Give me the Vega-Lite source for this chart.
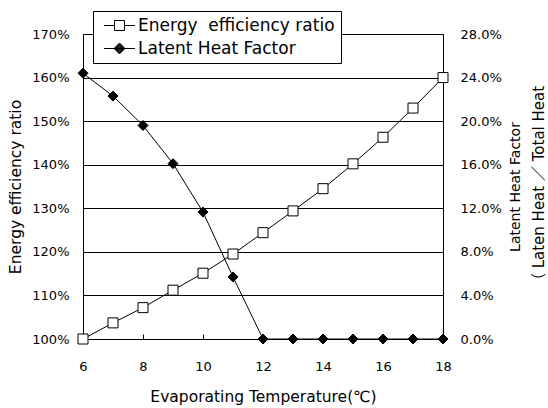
{
  "$schema": "https://vega.github.io/schema/vega-lite/v6.json",
  "width": 360,
  "height": 305,
  "autosize": {"type": "none"},
  "padding": {"left": 83, "top": 34, "right": 105, "bottom": 69},
  "background": "white",
  "config": {
    "font": "DejaVu Sans, Noto Sans CJK JP",
    "view": {"stroke": "black", "strokeWidth": 1},
    "axis": {"labelColor": "black", "titleColor": "black", "titleFontWeight": "normal", "labelFont": "DejaVu Sans", "titleFont": "DejaVu Sans, Noto Sans CJK JP"},
    "legend": {
      "orient": "none", "legendX": 10, "legendY": -23,
      "title": null,
      "padding": 6, "strokeColor": "black", "fillColor": "white",
      "labelFontSize": 17, "labelFont": "DejaVu Sans", "labelColor": "black", "labelLimit": 400,
      "labelOffset": 10, "symbolSize": 100, "symbolOffset": 12, "symbolStrokeWidth": 1,
      "rowPadding": 5
    }
  },
  "data": {
    "values": [
      {"t": 6, "eer": 1.000, "lhf": 0.244},
      {"t": 7, "eer": 1.037, "lhf": 0.223},
      {"t": 8, "eer": 1.072, "lhf": 0.196},
      {"t": 9, "eer": 1.112, "lhf": 0.161},
      {"t": 10, "eer": 1.151, "lhf": 0.1165},
      {"t": 11, "eer": 1.195, "lhf": 0.057},
      {"t": 12, "eer": 1.244, "lhf": 0},
      {"t": 13, "eer": 1.294, "lhf": 0},
      {"t": 14, "eer": 1.345, "lhf": 0},
      {"t": 15, "eer": 1.402, "lhf": 0},
      {"t": 16, "eer": 1.463, "lhf": 0},
      {"t": 17, "eer": 1.530, "lhf": 0},
      {"t": 18, "eer": 1.600, "lhf": 0}
    ]
  },
  "encoding": {
    "x": {
      "field": "t", "type": "quantitative",
      "scale": {"domain": [6, 18], "nice": false, "zero": false},
      "axis": {
        "values": [6, 8, 10, 12, 14, 16, 18],
        "grid": false, "domain": false, "ticks": true, "tickSize": -5, "tickColor": "black",
        "labelPadding": 26, "labelFontSize": 13, "labelFlush": false,
        "title": "Evaporating Temperature(℃)", "titleFontSize": 15.5, "titlePadding": 16
      }
    }
  },
  "layer": [
    {
      "encoding": {
        "y": {
          "field": "eer", "type": "quantitative",
          "scale": {"domain": [1.0, 1.7], "nice": false, "zero": false},
          "axis": {
            "orient": "left",
            "values": [1.0, 1.1, 1.2, 1.3, 1.4, 1.5, 1.6, 1.7],
            "format": ".0%",
            "grid": true, "gridColor": "black", "gridOpacity": 1, "gridWidth": 1,
            "ticks": false, "domain": false,
            "labelPadding": 14, "labelFontSize": 13,
            "title": "Energy efficiency ratio", "titleFontSize": 15.5, "titlePadding": 8
          }
        }
      },
      "layer": [
        {"mark": {"type": "line", "color": "black", "strokeWidth": 1}, "encoding": {}},
        {
          "mark": {"type": "point", "filled": true, "fill": "white", "stroke": "black", "strokeWidth": 1, "size": 1, "opacity": 1},
          "encoding": {
            "shape": {
              "datum": "Energy  efficiency ratio",
              "type": "nominal",
              "scale": {
                "domain": ["Energy  efficiency ratio", "Latent Heat Factor"],
                "range": [
                  "M-3.1,0H-1M1,0H3.1M-1,-1H1V1H-1Z",
                  "M-3.1,0H3.1M0,-1.1L1.1,0L0,1.1L-1.1,0ZM0,-0.95L0.95,0L0,0.95L-0.95,0ZM0,-0.8L0.8,0L0,0.8L-0.8,0ZM0,-0.65L0.65,0L0,0.65L-0.65,0ZM0,-0.5L0.5,0L0,0.5L-0.5,0ZM0,-0.35L0.35,0L0,0.35L-0.35,0ZM0,-0.2L0.2,0L0,0.2L-0.2,0ZM0,-0.05L0.05,0L0,0.05L-0.05,0Z"
                ]
              },
              "legend": {
                "symbolSize": 100,
                "labelExpr": "replace(datum.label, '  ', '\u00a0 ')"
              }
            }
          }
        },
        {
          "mark": {"type": "point", "shape": "square", "filled": true, "fill": "white", "stroke": "black", "strokeWidth": 1, "size": 100, "opacity": 1},
          "encoding": {}
        }
      ]
    },
    {
      "layer": [
        {
          "mark": {"type": "line", "color": "black", "strokeWidth": 1},
          "encoding": {
            "y": {
              "field": "lhf", "type": "quantitative",
              "scale": {"domain": [0, 0.28], "nice": false, "zero": false},
              "axis": {
                "orient": "right",
                "labels": false, "ticks": false, "domain": false, "grid": false,
                "title": "（ Laten Heat ／ Total Heat",
                "titleFontSize": 15, "titleAngle": -90, "titleBaseline": "top", "titlePadding": 88
              }
            }
          }
        },
        {
          "mark": {"type": "point", "shape": "diamond", "filled": true, "fill": "black", "stroke": "black", "strokeWidth": 1, "size": 100, "opacity": 1},
          "encoding": {
            "y": {
              "field": "lhf", "type": "quantitative",
              "scale": {"domain": [0, 0.28], "nice": false, "zero": false},
              "axis": {
                "orient": "right",
                "values": [0, 0.04, 0.08, 0.12, 0.16, 0.2, 0.24, 0.28],
                "format": ".1%",
                "grid": false, "ticks": false, "domain": false,
                "labelPadding": 17, "labelFontSize": 13,
                "title": "Latent Heat Factor", "titleFontSize": 14, "titleAngle": -90, "titleBaseline": "top", "titlePadding": 7
              }
            }
          }
        }
      ],
      "resolve": {"axis": {"y": "independent"}}
    }
  ],
  "resolve": {"scale": {"y": "independent"}}
}
